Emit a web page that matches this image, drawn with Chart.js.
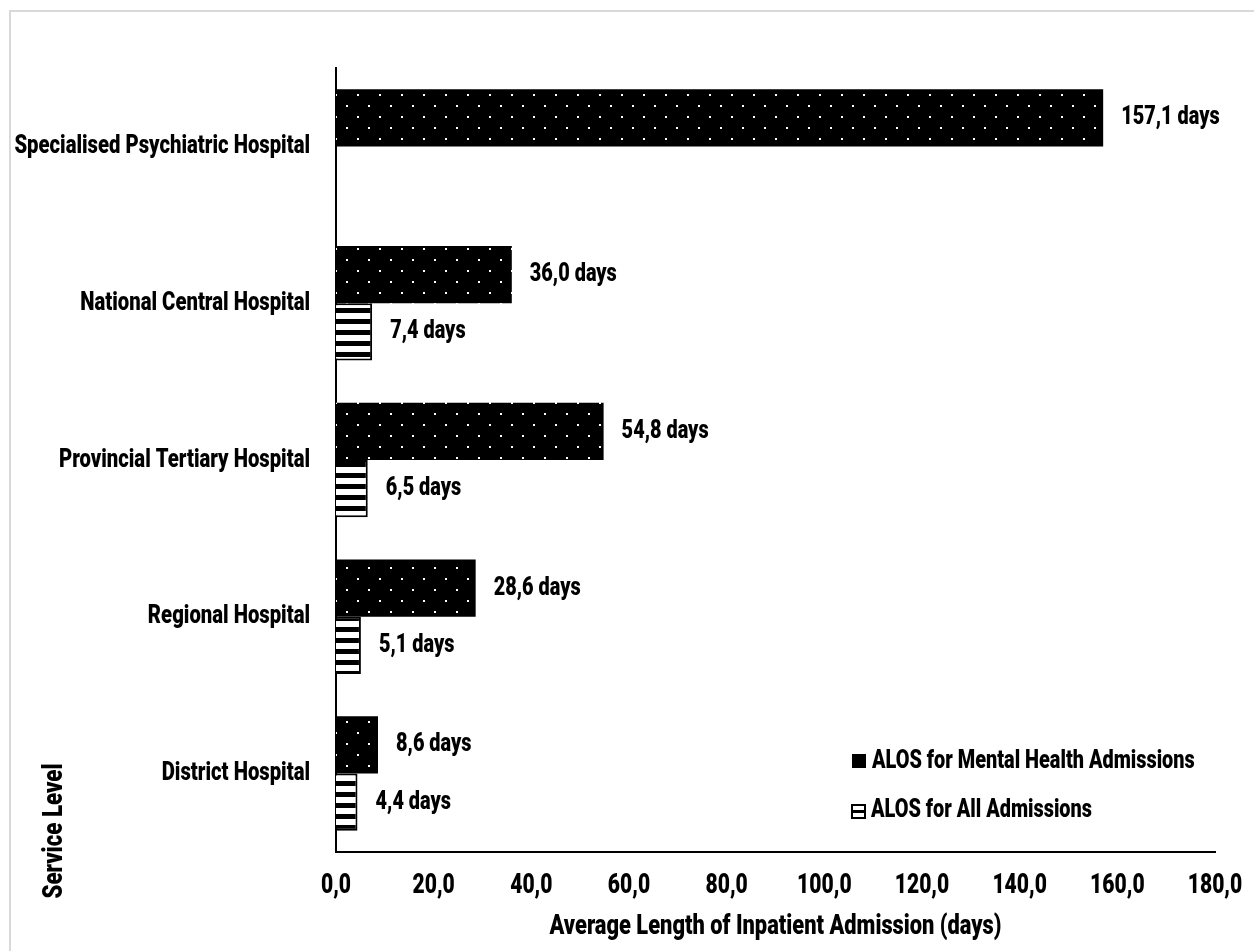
<!DOCTYPE html>
<html>
<head>
<meta charset="utf-8">
<title>ALOS by Service Level</title>
<script src="https://cdn.jsdelivr.net/npm/chart.js@4"></script>
<style>
    html, body { margin: 0; padding: 0; background: #fff; }
    #wrap { width: 1254px; height: 951px; }
</style>
</head>
<body>
<div id="wrap"><canvas id="alosChart" width="1254" height="951"></canvas></div>
<script>
// Data
const serviceLevels = [
    'Specialised Psychiatric Hospital',
    'National Central Hospital',
    'Provincial Tertiary Hospital',
    'Regional Hospital',
    'District Hospital'
];
const mentalHealthAlos = [157.1, 36.0, 54.8, 28.6, 8.6];
const allAdmissionsAlos = [null, 7.4, 6.5, 5.1, 4.4];
const xTicks = [0, 20, 40, 60, 80, 100, 120, 140, 160, 180];
const seriesNames = ['ALOS for Mental Health Admissions', 'ALOS for All Admissions'];

const FONT = "Roboto, 'Liberation Sans', sans-serif";
const SQUEEZE = 0.78;   // the original uses a condensed face
const fmt = v => v.toFixed(1).replace('.', ',');

// condensed heavy text
function drawText(ctx, text, x, y, size, align, rotate) {
    ctx.save();
    ctx.font = '900 ' + size + 'px ' + FONT;
    ctx.fillStyle = '#000';
    ctx.textBaseline = 'middle';
    ctx.textAlign = align;
    ctx.translate(x, y);
    if (rotate) ctx.rotate(-Math.PI / 2);
    ctx.scale(SQUEEZE, 1);
    ctx.fillText(text, 0, 0);
    ctx.restore();
}

// Fill patterns
function dotPattern() {
    const c = document.createElement('canvas');
    c.width = 22; c.height = 22;
    const g = c.getContext('2d');
    g.fillStyle = '#000';
    g.fillRect(0, 0, 22, 22);
    g.fillStyle = '#fff';
    g.fillRect(5, 6, 2, 2);
    g.fillRect(16, 17, 2, 2);
    return g.createPattern(c, 'repeat');
}

function stripePattern() {
    const c = document.createElement('canvas');
    c.width = 4; c.height = 11;
    const g = c.getContext('2d');
    g.fillStyle = '#fff';
    g.fillRect(0, 0, 4, 11);
    g.fillStyle = '#000';
    g.fillRect(0, 0, 4, 5);
    return g.createPattern(c, 'repeat');
}

const dots = dotPattern();
const stripes = stripePattern();

// Frame, tick labels, value labels, legend and axis titles
const extrasPlugin = {
    id: 'extras',
    beforeDraw(chart) {
        const ctx = chart.ctx;
        ctx.save();
        ctx.fillStyle = '#fff';
        ctx.fillRect(0, 0, chart.width, chart.height);
        ctx.strokeStyle = '#d9d9d9';
        ctx.lineWidth = 2;
        ctx.strokeRect(10, 11, chart.width + 20, chart.height + 20);
        ctx.restore();
    },
    afterDatasetsDraw(chart) {
        const ctx = chart.ctx;
        const xs = chart.scales.x;
        const ys = chart.scales.y;
        const area = chart.chartArea;

        // category labels
        serviceLevels.forEach((name, i) => {
            drawText(ctx, name, area.left - 26, ys.getPixelForValue(i), 26, 'right');
        });

        // value ticks
        xTicks.forEach(v => {
            drawText(ctx, fmt(v), xs.getPixelForValue(v), area.bottom + 34, 27, 'center');
        });

        // bar labels
        chart.data.datasets.forEach((ds, i) => {
            chart.getDatasetMeta(i).data.forEach((bar, j) => {
                const v = ds.data[j];
                if (v == null) return;
                drawText(ctx, fmt(v) + ' days', bar.x + 18, bar.y, 25.5, 'left');
            });
        });

        // legend
        ctx.save();
        ctx.fillStyle = '#000';
        ctx.fillRect(852, 754, 14, 14);
        ctx.strokeStyle = '#000';
        ctx.lineWidth = 2;
        ctx.strokeRect(852, 805, 13, 13);
        ctx.fillRect(852, 810, 13, 3);
        ctx.restore();
        drawText(ctx, seriesNames[0], 872, 762, 25.5, 'left');
        drawText(ctx, seriesNames[1], 871, 811, 25.5, 'left');

        // axis titles
        drawText(ctx, 'Average Length of Inpatient Admission (days)', (area.left + area.right) / 2, 927, 28, 'center');
        drawText(ctx, 'Service Level', 55, 831, 28.5, 'center', true);
    }
};

new Chart(document.getElementById('alosChart'), {
    type: 'bar',
    data: {
        labels: serviceLevels,
        datasets: [
            {
                label: seriesNames[0],
                data: mentalHealthAlos,
                backgroundColor: dots,
                borderWidth: 0
            },
            {
                label: seriesNames[1],
                data: allAdmissionsAlos,
                backgroundColor: stripes,
                borderColor: '#000',
                borderWidth: 2,
                borderSkipped: 'start'
            }
        ]
    },
    options: {
        indexAxis: 'y',
        responsive: false,
        animation: false,
        categoryPercentage: 0.73,
        barPercentage: 1,
        layout: { padding: { top: 68, right: 39, left: 0, bottom: 0 } },
        plugins: {
            legend: { display: false },
            tooltip: { enabled: false }
        },
        scales: {
            x: {
                min: 0,
                max: 180,
                afterBuildTicks: axis => { axis.ticks = xTicks.map(v => ({ value: v })); },
                afterFit: axis => { axis.height = 99; },
                grid: { display: false, drawTicks: false },
                border: { display: true, color: '#000', width: 2 },
                ticks: { display: false }
            },
            y: {
                afterFit: axis => { axis.width = 336; },
                grid: { display: false, drawTicks: false },
                border: { display: true, color: '#000', width: 2 },
                ticks: { display: false }
            }
        }
    },
    plugins: [extrasPlugin]
});
</script>
</body>
</html>
